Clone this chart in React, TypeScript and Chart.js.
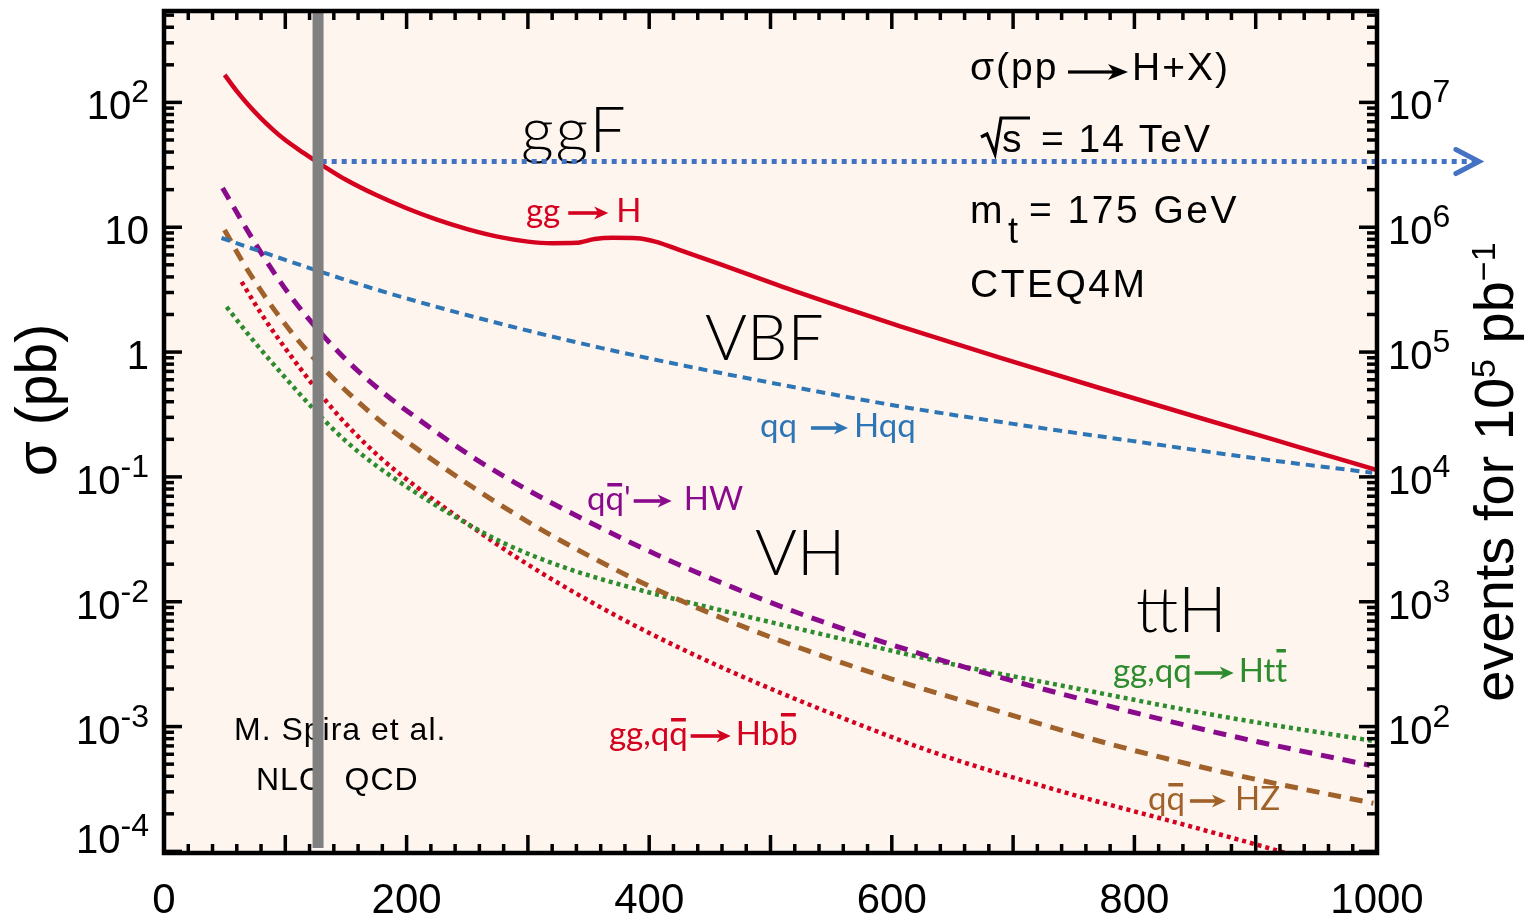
import React, { useEffect, useRef } from "react";
import { Chart, registerables } from "chart.js";

Chart.register(...registerables);

// ---------------- data: Higgs mass (GeV) vs cross-section (pb) ----------------
const ggfMass = [50, 60, 70, 80, 90, 100, 115, 130, 150, 175, 200, 225, 250, 275, 300, 320, 340, 355, 370, 390, 405, 430, 456, 510, 565, 607, 689, 772, 855, 937, 1000];
const ggfXsec = [166, 123, 94.4, 74.5, 60.3, 49.9, 39.4, 31.6, 24.0, 18.1, 14.2, 11.5, 9.66, 8.41, 7.67, 7.45, 7.5, 8.04, 8.22, 8.17, 7.67, 6.31, 5.16, 3.33, 2.19, 1.603, 0.902, 0.513, 0.295, 0.1718, 0.1135];

const vbfMass = [47.4, 80, 120, 167, 220, 290, 360, 430, 500, 607, 700, 800, 900, 996];
const vbfXsec = [8.2, 6.38, 4.71, 3.35, 2.37, 1.57, 1.081, 0.774, 0.569, 0.367, 0.266, 0.193, 0.141, 0.108];

const hwMass = [48.3, 65, 85, 105, 125, 150, 180, 215, 255, 300, 350, 410, 470, 530, 600, 680, 780, 880, 994];
const hwXsec = [20.65, 10.84, 5.25, 2.75, 1.585, 0.871, 0.479, 0.266, 0.143, 0.0785, 0.0437, 0.0229, 0.0129, 0.00767, 0.00452, 0.00263, 0.00145, 0.000841, 0.00049];

const hzMass = [49.9, 65, 85, 105, 125, 150, 180, 215, 255, 300, 350, 410, 470, 530, 600, 680, 780, 880, 997];
const hzXsec = [9.51, 5.25, 2.63, 1.445, 0.861, 0.49, 0.272, 0.1514, 0.0822, 0.0437, 0.0234, 0.012, 0.00676, 0.00407, 0.0024, 0.0014, 0.000724, 0.000417, 0.000243];

const tthMass = [51.6, 70, 90, 110, 130, 150, 175, 205, 240, 280, 330, 390, 460, 540, 640, 750, 870, 997];
const tthXsec = [2.3, 1.365, 0.804, 0.484, 0.2985, 0.193, 0.123, 0.0776, 0.0479, 0.0295, 0.01884, 0.01259, 0.00851, 0.00556, 0.00331, 0.00204, 0.001216, 0.000767];

const hbbMass = [64, 80, 100, 125, 150, 180, 215, 250, 290, 340, 400, 470, 550, 640, 740, 850, 920, 1000];
const hbbXsec = [3.65, 2.04, 1.072, 0.513, 0.266, 0.138, 0.0741, 0.0422, 0.0229, 0.01161, 0.00562, 0.00269, 0.001274, 0.000596, 0.000302, 0.000155, 0.0001, 0.0000575];

// reference markers
const markerMass = 127;          // vertical grey band
const markerLow = 1.065e-4;
const levelXsec = 33.6;          // horizontal dotted arrow level
const levelStart = 130;
const levelEnd = 1084;

// axes
const xMin = 0;
const xMax = 1000;
const yMin = 9.71e-5;
const yMax = 539.7;
const eventsPerPb = 1e5;
const xTickLabels = [0, 200, 400, 600, 800, 1000];
const xMajorStep = 100;
const xMinorStep = 20;
const leftDecades = [-4, -3, -2, -1, 0, 1, 2];
const rightDecades = [2, 3, 4, 5, 6, 7];

// ---------------- styling ----------------
const RED = "#d4011f";
const BLUE = "#2e75b6";
const PURPLE = "#8a0a8c";
const BROWN = "#a0622a";
const GREEN = "#2e8b2e";
const BG = "#fdf5ee";
const SANS = "'Liberation Sans', Arial, Helvetica, sans-serif";
const LABEL = "'Lato', 'Open Sans', sans-serif";
const THIN = "300 64px 'Lato', 'Roboto', 'Open Sans', sans-serif";

const toPoints = (xs: number[], ys: number[]) => xs.map((x, i) => ({ x, y: ys[i] }));

type Seg = { t?: string; bar?: number; arrow?: number; gap?: number };

function setSpacing(ctx: CanvasRenderingContext2D, px: number) {
  (ctx as any).letterSpacing = `${px}px`;
}

function drawArrow(ctx: CanvasRenderingContext2D, x0: number, yc: number, len: number, headLen: number, headHalf: number, thick: number, color: string) {
  const tip = x0 + len;
  ctx.fillStyle = color;
  ctx.fillRect(x0, yc - thick / 2, len - headLen * 0.7, thick);
  ctx.beginPath();
  ctx.moveTo(tip, yc);
  ctx.lineTo(tip - headLen, yc - headHalf);
  ctx.lineTo(tip - headLen * 0.72, yc);
  ctx.lineTo(tip - headLen, yc + headHalf);
  ctx.closePath();
  ctx.fill();
}

function drawRich(ctx: CanvasRenderingContext2D, segs: Seg[], x: number, y: number, color: string, font: string) {
  ctx.font = font;
  ctx.textAlign = "left";
  ctx.textBaseline = "alphabetic";
  let cx = x;
  for (const s of segs) {
    if (s.gap) cx += s.gap;
    if (s.t) {
      ctx.fillStyle = color;
      const w = ctx.measureText(s.t).width;
      ctx.fillText(s.t, cx, y);
      if (s.bar) ctx.fillRect(cx + w * 0.1, y - s.bar, w * 0.8, 3.5);
      cx += w;
    }
    if (s.arrow) {
      drawArrow(ctx, cx, y - 9, s.arrow, 14, 6.5, 3.6, color);
      cx += s.arrow;
    }
  }
}

function supWidth(ctx: CanvasRenderingContext2D, base: string, sup: string, bf: string, sf: string) {
  ctx.font = bf;
  const wb = ctx.measureText(base).width;
  ctx.font = sf;
  const ws = sup ? ctx.measureText(sup).width : 0;
  return [wb, ws];
}

function drawSup(ctx: CanvasRenderingContext2D, base: string, sup: string, x: number, y: number, align: string, bf: string, sf: string, raise: number) {
  const [wb, ws] = supWidth(ctx, base, sup, bf, sf);
  const sx = align === "right" ? x - wb - ws : align === "center" ? x - (wb + ws) / 2 : x;
  ctx.textAlign = "left";
  ctx.textBaseline = "alphabetic";
  ctx.font = bf;
  ctx.fillText(base, sx, y);
  if (sup) {
    ctx.font = sf;
    ctx.fillText(sup, sx + wb, y - raise);
  }
}

function powParts(k: number): [string, string] {
  if (k === 0) return ["1", ""];
  if (k === 1) return ["10", ""];
  return ["10", String(k)];
}

const decor = {
  id: "decor",
  beforeDatasetsDraw(chart: any) {
    const { ctx, chartArea: a } = chart;
    ctx.save();
    ctx.fillStyle = BG;
    ctx.fillRect(a.left, a.top, a.right - a.left, a.bottom - a.top);

    // top-right black annotation
    ctx.fillStyle = "#000";
    ctx.textBaseline = "alphabetic";
    ctx.textAlign = "left";
    ctx.font = `39px ${SANS}`;
    setSpacing(ctx, 2);
    ctx.fillText("σ(pp", 970, 80);
    drawArrow(ctx, 1068, 72, 60, 20, 8, 3.2, "#000");
    ctx.fillStyle = "#000";
    ctx.fillText("H+X)", 1132, 80);
    // sqrt(s)
    ctx.strokeStyle = "#000";
    ctx.lineWidth = 3.2;
    ctx.lineJoin = "miter";
    ctx.beginPath();
    ctx.moveTo(981, 137);
    ctx.lineTo(987, 134);
    ctx.lineTo(995, 154);
    ctx.lineTo(1001, 118);
    ctx.lineTo(1030, 118);
    ctx.stroke();
    ctx.fillText("s", 1002, 152);
    ctx.fillText("= 14 TeV", 1041, 152);
    ctx.fillText("m", 970, 223);
    ctx.font = `36px ${SANS}`;
    ctx.fillText("t", 1008, 243);
    ctx.font = `39px ${SANS}`;
    setSpacing(ctx, 2.5);
    ctx.fillText("= 175 GeV", 1029, 223);
    ctx.fillText("CTEQ4M", 970, 297);

    ctx.font = `32px ${SANS}`;
    setSpacing(ctx, 1);
    ctx.fillText("M. Spira et al.", 234, 740);
    ctx.fillText("NLO  QCD", 256, 790);

    // process group labels
    ctx.font = THIN;
    setSpacing(ctx, 2);
    ctx.fillText("ggF", 521, 152);
    setSpacing(ctx, 0);
    ctx.fillText("VBF", 705, 360);
    ctx.fillText("VH", 755, 575);
    ctx.fillText("ttH", 1136, 632);

    // coloured process labels
    const lf = `33px ${LABEL}`;
    drawRich(ctx, [{ t: "gg" }, { gap: 8 }, { arrow: 40 }, { gap: 8 }, { t: "H" }], 526, 222, RED, lf);
    drawRich(ctx, [{ t: "qq" }, { gap: 14 }, { arrow: 37 }, { gap: 6 }, { t: "Hqq" }], 760, 437, BLUE, lf);
    drawRich(ctx, [{ t: "q" }, { t: "q", bar: 27 }, { t: "'" }, { gap: 3 }, { arrow: 38 }, { gap: 12 }, { t: "HW" }], 587, 510, PURPLE, lf);
    drawRich(ctx, [{ t: "gg,q" }, { t: "q", bar: 27 }, { gap: 3 }, { arrow: 40 }, { gap: 5 }, { t: "Hb" }, { t: "b", bar: 32 }], 609, 745, RED, lf);
    drawRich(ctx, [{ t: "gg,q" }, { t: "q", bar: 27 }, { gap: 3 }, { arrow: 39 }, { gap: 5 }, { t: "Ht" }, { t: "t", bar: 33 }], 1113, 682, GREEN, lf);
    drawRich(ctx, [{ t: "q" }, { t: "q", bar: 27 }, { gap: 5 }, { arrow: 36 }, { gap: 9 }, { t: "HZ" }], 1148, 810, BROWN, lf);
    ctx.restore();
  },
  afterDatasetsDraw(chart: any) {
    const { ctx, chartArea: a, scales } = chart;
    const xs = scales.x;
    const ys = scales.y;
    const y2 = scales.y2;
    ctx.save();
    setSpacing(ctx, 0);

    // arrow head of the horizontal level line
    const meta = chart.getDatasetMeta(1);
    const end = meta.data[meta.data.length - 1];
    ctx.strokeStyle = "#4472c4";
    ctx.lineWidth = 5;
    ctx.lineCap = "round";
    ctx.lineJoin = "miter";
    ctx.beginPath();
    ctx.moveTo(end.x - 23, end.y - 12);
    ctx.lineTo(end.x, end.y);
    ctx.lineTo(end.x - 23, end.y + 12);
    ctx.stroke();

    // ticks (inward)
    ctx.strokeStyle = "#000";
    ctx.lineCap = "butt";
    ctx.lineWidth = 3.5;
    const line = (x1: number, y1: number, x2: number, y2p: number) => {
      ctx.beginPath();
      ctx.moveTo(x1, y1);
      ctx.lineTo(x2, y2p);
      ctx.stroke();
    };
    for (let v = xMin; v <= xMax; v += xMinorStep) {
      const px = xs.getPixelForValue(v);
      const len = v % xMajorStep === 0 ? 18 : 9;
      line(px, a.bottom, px, a.bottom - len);
      line(px, a.top, px, a.top + len);
    }
    for (let k = -5; k <= 3; k++) {
      for (let m = 1; m <= 9; m++) {
        const v = m * Math.pow(10, k);
        if (v < yMin || v > yMax) continue;
        const len = m === 1 ? 18 : 10;
        const py = ys.getPixelForValue(v);
        line(a.left, py, a.left + len, py);
        const v2 = v * eventsPerPb;
        const py2 = y2.getPixelForValue(v2);
        line(a.right, py2, a.right - len, py2);
      }
    }

    // frame
    ctx.lineWidth = 4.5;
    ctx.strokeRect(a.left, a.top, a.right - a.left, a.bottom - a.top);

    // tick labels
    ctx.fillStyle = "#000";
    const bf = `40px ${SANS}`;
    const sf = `32px ${SANS}`;
    for (const k of leftDecades) {
      const py = ys.getPixelForValue(Math.pow(10, k));
      const [b, s] = powParts(k);
      drawSup(ctx, b, s, 149, Math.min(py + 17, a.bottom), "right", bf, sf, 17);
    }
    for (const k of rightDecades) {
      const py = y2.getPixelForValue(Math.pow(10, k));
      drawSup(ctx, "10", String(k), 1388, Math.min(py + 17, a.bottom), "left", bf, sf, 17);
    }
    ctx.font = `42px ${SANS}`;
    ctx.textAlign = "center";
    for (const v of xTickLabels) {
      ctx.fillText(String(v), xs.getPixelForValue(v), 913);
    }

    // axis titles
    ctx.save();
    ctx.translate(56, 400);
    ctx.rotate(-Math.PI / 2);
    ctx.font = `57px ${SANS}`;
    ctx.textAlign = "center";
    ctx.fillText("σ (pb)", 0, 0);
    ctx.restore();

    ctx.save();
    ctx.translate(1513, 472);
    ctx.rotate(-Math.PI / 2);
    const tf = `56px ${SANS}`;
    const tsf = `34px ${SANS}`;
    const [w1, w2] = supWidth(ctx, "events for 10", "5", tf, tsf);
    const [w3, w4] = supWidth(ctx, " pb", "−1", tf, tsf);
    const total = w1 + w2 + w3 + w4;
    drawSup(ctx, "events for 10", "5", -total / 2, 0, "left", tf, tsf, 18);
    drawSup(ctx, " pb", "−1", -total / 2 + w1 + w2, 0, "left", tf, tsf, 18);
    ctx.restore();

    ctx.restore();
  },
};

export default function App() {
  const ref = useRef<HTMLCanvasElement | null>(null);
  useEffect(() => {
    if (!ref.current) return;
    const common = { pointRadius: 0, fill: false, cubicInterpolationMode: "monotone" as const };
    const chart = new Chart(ref.current, {
      type: "line",
      data: {
        datasets: [
          { label: "mH", data: [{ x: markerMass, y: markerLow }, { x: markerMass, y: yMax }], borderColor: "#808080", borderWidth: 11, pointRadius: 0, order: 0 },
          { label: "level", data: [{ x: levelStart, y: levelXsec }, { x: levelEnd, y: levelXsec }], borderColor: "#4472c4", borderWidth: 5, borderDash: [5, 5], pointRadius: 0, clip: false, order: 1 },
          { label: "gg→H", data: toPoints(ggfMass, ggfXsec), borderColor: RED, borderWidth: 4.5, order: 2, ...common },
          { label: "qq→Hqq", data: toPoints(vbfMass, vbfXsec), borderColor: BLUE, borderWidth: 4, borderDash: [9, 6], order: 3, ...common },
          { label: "qq'→HW", data: toPoints(hwMass, hwXsec), borderColor: PURPLE, borderWidth: 5, borderDash: [13, 9], order: 4, ...common },
          { label: "qq→HZ", data: toPoints(hzMass, hzXsec), borderColor: BROWN, borderWidth: 5, borderDash: [13, 9], order: 5, ...common },
          { label: "gg,qq→Htt", data: toPoints(tthMass, tthXsec), borderColor: GREEN, borderWidth: 4.5, borderDash: [4, 4], order: 6, ...common },
          { label: "gg,qq→Hbb", data: toPoints(hbbMass, hbbXsec), borderColor: RED, borderWidth: 4.5, borderDash: [4, 4], order: 7, ...common },
        ] as any,
      },
      options: {
        animation: false,
        responsive: false,
        devicePixelRatio: 1,
        events: [],
        layout: { padding: { top: 11, left: 0, right: 0, bottom: 0 } },
        plugins: { legend: { display: false }, tooltip: { enabled: false }, title: { display: false } },
        scales: {
          x: {
            type: "linear", position: "bottom", min: xMin, max: xMax, bounds: "data",
            grid: { display: false }, border: { display: false }, ticks: { display: false },
            afterFit: (s: any) => { s.height = 65; },
          },
          y: {
            type: "logarithmic", position: "left", min: yMin, max: yMax, bounds: "data",
            grid: { display: false }, border: { display: false }, ticks: { display: false },
            afterFit: (s: any) => { s.width = 164; },
          },
          y2: {
            type: "logarithmic", position: "right", min: yMin * eventsPerPb, max: yMax * eventsPerPb, bounds: "data",
            grid: { display: false }, border: { display: false }, ticks: { display: false },
            afterFit: (s: any) => { s.width = 147; },
          },
        },
      } as any,
      plugins: [decor],
    });
    return () => chart.destroy();
  }, []);
  return (
    <div style={{ position: "fixed", left: 0, top: 0, width: 1524, height: 918, background: "#fff" }}>
      <canvas ref={ref} width={1524} height={918} style={{ display: "block", width: 1524, height: 918 }} />
    </div>
  );
}
